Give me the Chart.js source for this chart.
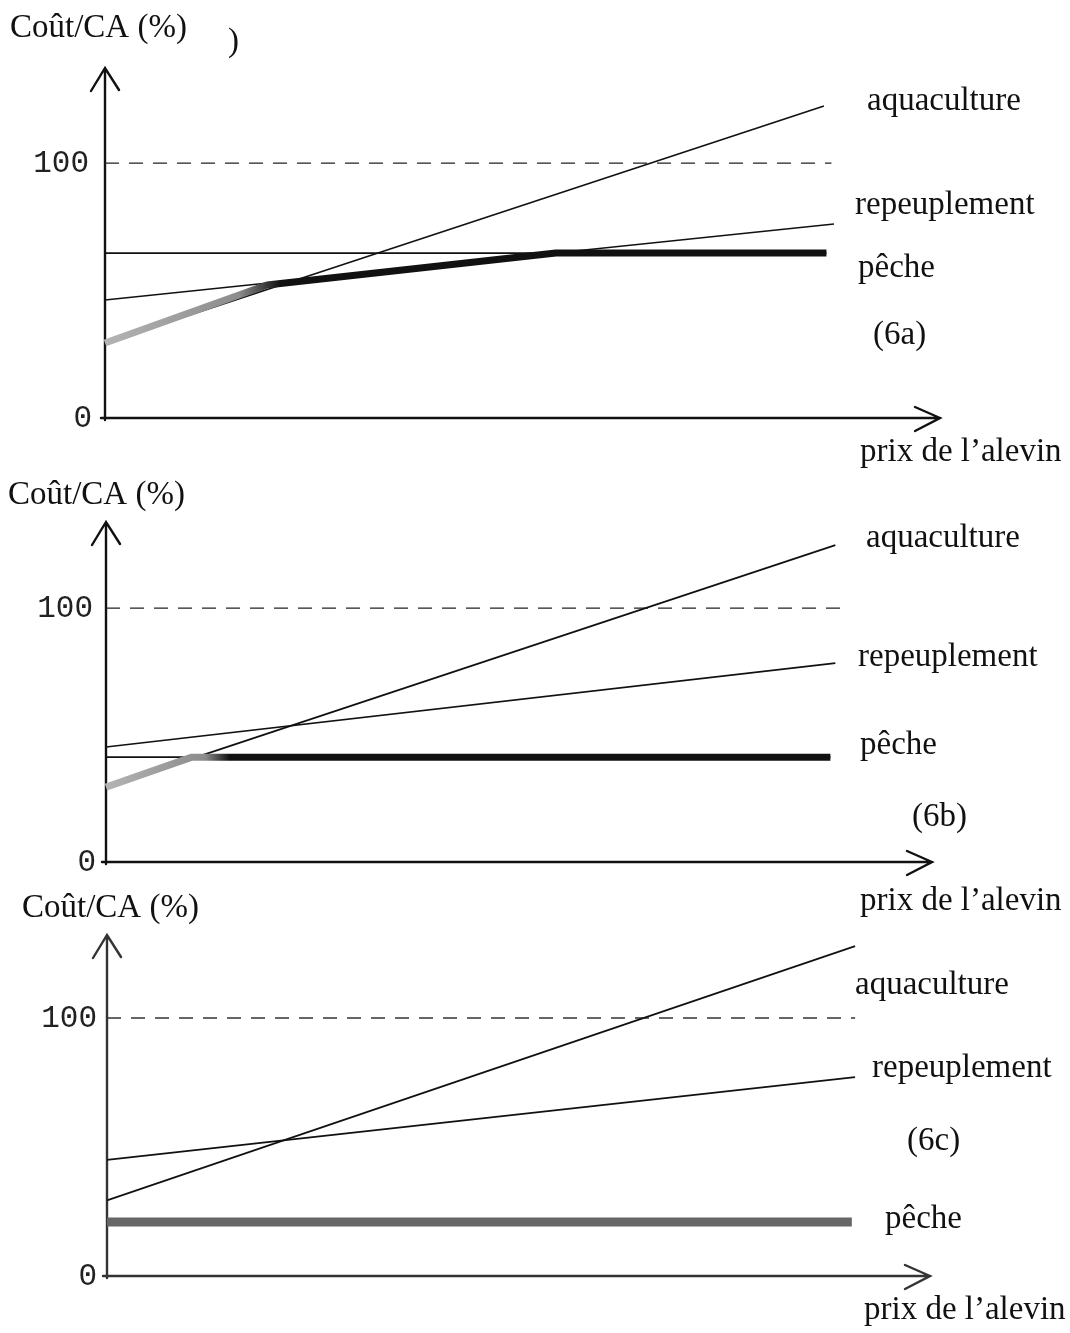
<!DOCTYPE html>
<html>
<head>
<meta charset="utf-8">
<script src="https://cdn.jsdelivr.net/npm/chart.js@4.4.0/dist/chart.umd.min.js"></script>
<style>
body { margin: 0; background: #fff; width: 1070px; height: 1333px; overflow: hidden; }
.panel { position: absolute; left: 0; width: 1070px; }
</style>
</head>
<body>
<div class="panel" style="top:0px"><canvas id="c6a" width="1070" height="470"></canvas></div>
<div class="panel" style="top:470px"><canvas id="c6b" width="1070" height="450"></canvas></div>
<div class="panel" style="top:890px"><canvas id="c6c" width="1070" height="443"></canvas></div>
<script>
// names and ticks
var seriesNames = ['aquaculture', 'repeuplement', 'pêche'];
var yTicks = [0, 100];
var yTitle = 'Coût/CA (%)';
var xTitle = 'prix de l\u2019alevin';

// panel 6a (x = prix de l'alevin, arbitrary 0..100)
var aquaA = [{x: 0, y: 29.4}, {x: 86.1, y: 122.4}];
var repA = [{x: 0, y: 46.3}, {x: 87.3, y: 76.1}];
var pecheA = [{x: 0, y: 64.7}, {x: 86.4, y: 64.7}];
var minA = [{x: 0, y: 29.4}, {x: 19.4, y: 52.2}, {x: 54, y: 64.7}, {x: 86.4, y: 64.7}];
var seuilA = [{x: 0, y: 100}, {x: 87, y: 100}];

// panel 6b
var aquaB = [{x: 0, y: 29.5}, {x: 88.3, y: 124.8}];
var repB = [{x: 0, y: 45.3}, {x: 88.3, y: 78.3}];
var pecheB = [{x: 0, y: 41.3}, {x: 87.7, y: 41.3}];
var minB = [{x: 0, y: 29.5}, {x: 10.4, y: 41.3}, {x: 87.7, y: 41.3}];
var seuilB = [{x: 0, y: 100}, {x: 89.5, y: 100}];

// panel 6c
var aquaC = [{x: 0, y: 29.3}, {x: 90.9, y: 127.9}];
var repC = [{x: 0, y: 45}, {x: 90.9, y: 77.1}];
var minC = [{x: 0, y: 20.9}, {x: 90.5, y: 20.9}];
var seuilC = [{x: 0, y: 100}, {x: 90.9, y: 100}];

var serif = '"Liberation Serif", "Times New Roman", serif';
var mono = '"Liberation Mono", "Courier New", monospace';

function envColor(grayEnd, blackStart, base) {
    return function (c) {
        var ch = c.chart, a = ch.chartArea;
        if (!a) return base;
        var g = ch.ctx.createLinearGradient(a.left, 0, a.right, 0);
        g.addColorStop(0, '#b4b4b4');
        g.addColorStop(grayEnd, '#8c8c8c');
        g.addColorStop(blackStart, base);
        g.addColorStop(1, base);
        return g;
    };
}

function thin(data) {
    return { data: data, borderColor: '#111', borderWidth: 1.7, pointRadius: 0, clip: false, order: 2 };
}

// axes, arrows, ticks and texts
var sketch = {
    id: 'sketch',
    beforeDatasetsDraw: function (chart) {
        var o = chart.options.plugins.sketch;
        var ctx = chart.ctx, a = chart.chartArea;
        var ys = chart.scales.y;
        var y0 = ys.getPixelForValue(0);
        ctx.save();
        ctx.strokeStyle = o.axisColor;
        ctx.lineWidth = 2.4;
        ctx.lineCap = 'round';
        ctx.beginPath();
        ctx.moveTo(a.left, y0 + 2);
        ctx.lineTo(a.left, a.top);
        ctx.moveTo(a.left - 14, a.top + 23);
        ctx.lineTo(a.left, a.top);
        ctx.lineTo(a.left + 14, a.top + 22);
        ctx.moveTo(a.left - 4, y0);
        ctx.lineTo(a.right, y0);
        ctx.moveTo(a.right - 25, y0 - 11);
        ctx.lineTo(a.right, y0);
        ctx.lineTo(a.right - 25, y0 + 13);
        ctx.stroke();
        ctx.restore();
    },
    afterDraw: function (chart) {
        var o = chart.options.plugins.sketch;
        var ctx = chart.ctx, a = chart.chartArea;
        var ys = chart.scales.y;
        ctx.save();
        ctx.fillStyle = '#222';
        ctx.font = '31px ' + mono;
        ctx.textAlign = 'right';
        ctx.textBaseline = 'middle';
        yTicks.forEach(function (v) {
            ctx.fillText(String(v), a.left - o.tickGap[v === 0 ? 0 : 1], ys.getPixelForValue(v) + 1);
        });
        ctx.fillStyle = '#111';
        ctx.font = '33px ' + serif;
        ctx.textAlign = 'left';
        o.labels.forEach(function (l) {
            ctx.fillText(l.t, l.x, l.y);
        });
        ctx.restore();
    }
};

function makePanel(id, datasets, ymax, pad, opts) {
    return new Chart(document.getElementById(id), {
        type: 'line',
        data: { datasets: datasets },
        options: {
            responsive: false,
            animation: false,
            layout: { padding: pad },
            scales: {
                x: { type: 'linear', min: 0, max: 100, display: false },
                y: { type: 'linear', min: 0, max: ymax, display: false }
            },
            plugins: { legend: { display: false }, tooltip: { enabled: false }, sketch: opts }
        },
        plugins: [sketch]
    });
}

makePanel('c6a', [
    { data: seuilA, borderColor: '#222', borderWidth: 1.4, borderDash: [14, 10], pointRadius: 0, clip: false, order: 3 },
    thin(aquaA), thin(repA), thin(pecheA),
    { data: minA, borderColor: envColor(0.16, 0.21, '#111'), borderWidth: 7, pointRadius: 0, clip: false, order: 1, borderJoinStyle: 'round' }
], 137.3, { left: 105, right: 130, top: 68, bottom: 52 }, {
    axisColor: '#111', tickGap: [13, 16],
    labels: [
        { t: yTitle, x: 10, y: 28 }, { t: ')', x: 228, y: 42 },
        { t: seriesNames[0], x: 867, y: 101 }, { t: seriesNames[1], x: 855, y: 205 },
        { t: seriesNames[2], x: 858, y: 268 }, { t: '(6a)', x: 873, y: 335 },
        { t: xTitle, x: 860, y: 452 }
    ]
});

makePanel('c6b', [
    { data: seuilB, borderColor: '#222', borderWidth: 1.4, borderDash: [14, 10], pointRadius: 0, clip: false, order: 3 },
    thin(aquaB), thin(repB), thin(pecheB),
    { data: minB, borderColor: envColor(0.12, 0.15, '#111'), borderWidth: 7, pointRadius: 0, clip: false, order: 1, borderJoinStyle: 'round' }
], 133.9, { left: 106, right: 138, top: 52, bottom: 58 }, {
    axisColor: '#111', tickGap: [10, 13],
    labels: [
        { t: yTitle, x: 8, y: 25 },
        { t: seriesNames[0], x: 866, y: 68 }, { t: seriesNames[1], x: 858, y: 187 },
        { t: seriesNames[2], x: 860, y: 275 }, { t: '(6b)', x: 912, y: 347 },
        { t: xTitle, x: 860, y: 431 }
    ]
});

makePanel('c6c', [
    { data: seuilC, borderColor: '#333', borderWidth: 1.4, borderDash: [14, 10], pointRadius: 0, clip: false, order: 3 },
    thin(aquaC), thin(repC),
    { data: minC, borderColor: '#666', borderWidth: 9, pointRadius: 0, clip: false, order: 1 }
], 132.2, { left: 107, right: 140, top: 45, bottom: 57 }, {
    axisColor: '#333', tickGap: [10, 10],
    labels: [
        { t: yTitle, x: 22, y: 18 },
        { t: seriesNames[0], x: 855, y: 95 }, { t: seriesNames[1], x: 872, y: 178 },
        { t: '(6c)', x: 907, y: 251 }, { t: seriesNames[2], x: 885, y: 329 },
        { t: xTitle, x: 864, y: 420 }
    ]
});
</script>
</body>
</html>
